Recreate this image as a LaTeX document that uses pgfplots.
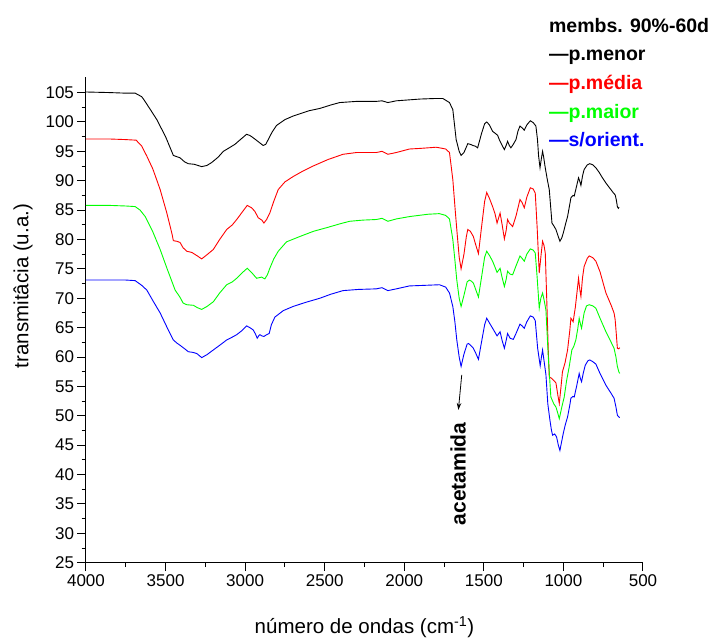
\documentclass[border=0pt]{standalone}
\usepackage{fontspec}
\setmainfont{Liberation Sans}
\usepackage{pgfplots}
\pgfplotsset{compat=1.18}
\usetikzlibrary{arrows.meta}
\definecolor{cgreen}{RGB}{0,255,0}
\definecolor{cred}{RGB}{255,0,0}
\definecolor{cblue}{RGB}{0,0,255}
\begin{document}
\begin{tikzpicture}
\path[use as bounding box] (0,0) rectangle (711pt,643pt);
\begin{axis}[
  at={(86pt,80.3pt)}, anchor=south west,
  scale only axis, width=557pt, height=485.4pt,
  xmin=500, xmax=4000, x dir=reverse,
  ymin=25, ymax=107.6,
  axis lines=left, axis line style={-, line width=1pt},
  xtick={500,1000,...,4000}, ytick={25,30,...,105},
  minor x tick num=1, minor y tick num=1,
  tick align=outside, major tick length=8.5pt, minor tick length=4.3pt,
  tick style={black, line width=1pt},
  ticklabel style={font=\fontsize{17}{17}\selectfont},
  /pgf/number format/assume math mode=true,
  /pgf/number format/set thousands separator={},
  xlabel={número de ondas (cm\textsuperscript{-1})},
  ylabel={transmitâcia (u.a.)},
  xlabel style={font=\fontsize{20.5}{20.5}\selectfont, at={(axis description cs:0.5,-0.133)}, anchor=center},
  ylabel style={font=\fontsize{20.5}{20.5}\selectfont, at={(axis description cs:-0.113,0.57)}, anchor=center},
  clip=false,
  every axis plot/.append style={line width=0.9pt},
]
% black: p.menor
\addplot[black] coordinates {
(4000,105.1)(3850,105.0)(3750,104.9)(3691,104.9)(3650,104.3)(3639,103.9)(3600,102.3)(3555,100.4)(3500,97.5)(3451,94.3)(3409,93.9)(3380,93.2)(3357,92.9)(3320,92.8)(3273,92.4)(3240,92.6)(3210,93.1)(3170,94.0)(3137,95.0)(3100,95.6)(3064,96.2)(3030,97.0)(2991,97.9)(2970,97.7)(2949,97.3)(2920,96.7)(2887,96.0)(2870,96.2)(2855,97.0)(2830,98.3)(2803,99.4)(2750,100.4)(2699,101.0)(2600,101.9)(2531,102.3)(2460,102.9)(2406,103.3)(2300,103.5)(2176,103.5)(2140,103.6)(2103,103.3)(2050,103.6)(2000,103.7)(1900,103.9)(1800,104.0)(1758,104.0)(1716,103.3)(1695,102.1)(1674,97.0)(1655,95.0)(1643,94.3)(1625,94.8)(1601,96.3)(1585,96.2)(1570,96.0)(1555,95.9)(1539,95.6)(1515,98.0)(1495,99.7)(1482,100.0)(1465,99.5)(1445,98.4)(1425,98.0)(1413,97.7)(1403,97.0)(1385,96.0)(1371,95.3)(1360,96.0)(1351,96.7)(1340,96.0)(1330,95.6)(1315,96.2)(1298,97.0)(1285,98.5)(1273,99.3)(1260,99.0)(1246,98.6)(1230,99.5)(1208,100.2)(1190,99.9)(1173,99.3)(1163,97.0)(1156,94.2)(1147,92.2)(1140,93.5)(1131,95.0)(1124,94.0)(1116,92.5)(1100,90.0)(1089,88.5)(1080,85.5)(1072,82.8)(1060,82.3)(1047,81.7)(1035,80.7)(1022,79.7)(1010,80.3)(1001,81.1)(985,82.8)(974,83.9)(960,86.0)(953,87.1)(940,87.5)(932,87.4)(918,89.0)(905,90.5)(897,89.9)(890,89.2)(880,90.8)(870,91.9)(850,92.7)(834,92.9)(815,92.7)(796,92.2)(775,91.4)(755,90.5)(730,89.5)(702,88.5)(685,87.9)(675,87.6)(668,86.8)(661,85.6)(655,85.3)(650,85.5)
};
% red: p.media
\addplot[cred] coordinates {
(4000,97.1)(3850,97.1)(3750,97.0)(3685,96.9)(3650,95.9)(3618,94.2)(3580,92.0)(3534,88.5)(3492,84.5)(3460,81.0)(3451,79.8)(3430,79.7)(3409,79.5)(3390,78.6)(3367,78.0)(3335,77.8)(3300,77.2)(3273,76.7)(3240,77.4)(3200,78.3)(3160,80.0)(3116,81.7)(3080,82.5)(3053,83.4)(3020,84.6)(2987,85.8)(2960,85.4)(2939,84.8)(2918,83.7)(2895,83.3)(2882,82.8)(2865,83.4)(2845,84.5)(2820,86.5)(2792,88.5)(2750,89.8)(2699,90.7)(2640,91.6)(2573,92.5)(2480,93.6)(2385,94.5)(2300,94.8)(2176,94.8)(2140,95.0)(2103,94.5)(2050,94.8)(1967,95.4)(1900,95.5)(1800,95.7)(1779,95.6)(1740,95.4)(1716,94.8)(1695,90.2)(1680,85.0)(1670,81.7)(1655,77.0)(1643,75.0)(1625,77.5)(1610,80.5)(1601,81.7)(1585,81.4)(1566,80.5)(1550,79.0)(1534,77.6)(1515,82.0)(1495,86.5)(1482,88.0)(1465,87.0)(1445,85.6)(1430,84.4)(1417,82.8)(1398,84.5)(1385,82.5)(1371,80.1)(1360,81.5)(1351,83.4)(1340,82.8)(1319,82.2)(1298,84.0)(1273,86.8)(1260,86.3)(1246,85.4)(1230,87.2)(1208,88.8)(1190,88.6)(1177,87.9)(1165,82.0)(1152,74.3)(1140,77.5)(1131,79.7)(1122,79.0)(1114,77.7)(1105,70.0)(1095,61.0)(1089,56.6)(1075,56.4)(1064,56.1)(1047,55.6)(1035,53.5)(1026,52.1)(1015,55.0)(1006,57.5)(990,59.0)(974,61.2)(960,64.5)(953,66.6)(939,66.0)(925,68.5)(905,73.4)(897,71.5)(890,70.3)(880,73.5)(870,75.4)(850,76.8)(838,77.2)(815,76.9)(796,76.3)(770,74.5)(733,70.9)(700,68.8)(682,67.5)(675,66.4)(668,64.0)(661,61.5)(653,61.4)(646,61.6)
};
% green: p.maior
\addplot[cgreen] coordinates {
(4000,85.8)(3850,85.8)(3750,85.7)(3691,85.6)(3660,85.0)(3628,83.9)(3580,81.3)(3534,78.3)(3490,75.0)(3440,71.4)(3410,70.2)(3390,69.2)(3367,68.9)(3325,68.8)(3300,68.4)(3273,68.1)(3240,68.6)(3200,69.4)(3160,70.9)(3116,72.3)(3080,72.8)(3053,73.4)(3020,74.3)(2987,75.1)(2960,74.4)(2928,73.4)(2912,73.5)(2897,73.6)(2876,73.3)(2860,74.0)(2845,75.1)(2820,76.7)(2792,78.0)(2740,79.6)(2657,80.5)(2570,81.4)(2489,82.0)(2400,82.7)(2343,83.1)(2260,83.3)(2176,83.4)(2140,83.6)(2103,83.1)(2050,83.5)(1967,83.9)(1850,84.3)(1779,84.4)(1740,84.1)(1716,83.5)(1695,80.0)(1682,76.5)(1670,73.1)(1655,70.0)(1643,68.6)(1625,70.5)(1605,72.8)(1591,73.1)(1578,72.9)(1566,72.6)(1550,71.4)(1534,70.2)(1515,73.5)(1495,77.0)(1482,78.0)(1465,77.3)(1445,76.3)(1430,75.3)(1417,74.4)(1398,75.1)(1385,73.5)(1371,72.0)(1360,73.2)(1351,74.6)(1335,74.1)(1319,74.0)(1298,75.5)(1273,77.2)(1260,76.8)(1246,76.3)(1230,77.5)(1208,78.4)(1190,78.2)(1177,77.7)(1165,73.5)(1152,68.3)(1142,70.0)(1131,70.9)(1120,69.5)(1110,68.0)(1095,60.0)(1079,53.2)(1060,52.0)(1047,51.5)(1035,50.4)(1026,49.5)(1010,51.5)(995,53.2)(980,56.0)(964,58.3)(947,61.2)(935,61.8)(922,62.9)(910,64.8)(901,66.6)(893,65.6)(886,64.9)(870,67.5)(855,68.7)(838,68.9)(815,68.7)(796,68.3)(770,66.6)(733,64.3)(700,62.5)(682,61.5)(670,60.0)(661,58.4)(652,57.5)(646,57.2)
};
% blue: s/orient.
\addplot[cblue] coordinates {
(4000,73.1)(3850,73.1)(3750,73.1)(3691,73.0)(3650,72.2)(3618,71.4)(3580,69.6)(3534,67.5)(3490,65.0)(3451,62.9)(3430,62.4)(3409,62.0)(3380,61.4)(3357,60.9)(3330,60.8)(3304,60.6)(3273,59.9)(3240,60.4)(3200,61.2)(3160,62.0)(3116,62.9)(3080,63.4)(3053,63.8)(3020,64.5)(2991,65.3)(2970,65.0)(2949,64.6)(2935,63.9)(2924,63.2)(2915,63.6)(2907,63.8)(2895,63.6)(2882,63.5)(2865,63.8)(2849,64.0)(2835,65.5)(2813,66.8)(2760,67.9)(2699,68.6)(2620,69.3)(2531,70.0)(2460,70.7)(2385,71.3)(2290,71.5)(2176,71.6)(2140,71.8)(2103,71.3)(2050,71.6)(1967,72.1)(1870,72.2)(1779,72.3)(1740,71.9)(1716,70.9)(1695,68.6)(1682,66.0)(1670,62.9)(1655,60.0)(1643,58.4)(1625,60.5)(1605,62.2)(1596,62.3)(1580,61.9)(1566,61.5)(1550,60.6)(1534,59.6)(1515,62.5)(1495,65.5)(1482,66.6)(1465,65.8)(1445,64.9)(1430,64.2)(1417,63.6)(1398,64.3)(1385,62.8)(1371,61.5)(1360,62.8)(1351,64.0)(1335,63.2)(1315,63.0)(1298,64.0)(1273,65.6)(1260,65.3)(1246,64.9)(1230,66.0)(1208,67.0)(1190,66.8)(1177,66.2)(1162,61.5)(1146,58.5)(1138,60.0)(1131,61.2)(1120,59.0)(1110,57.0)(1098,52.0)(1085,49.3)(1075,47.5)(1068,46.7)(1055,46.9)(1043,46.4)(1032,45.0)(1022,44.1)(1012,45.5)(1001,47.0)(988,48.5)(974,49.8)(960,51.8)(953,53.0)(940,53.3)(932,53.2)(915,55.3)(901,57.2)(893,56.3)(886,55.8)(875,57.3)(863,58.6)(845,59.4)(834,59.5)(815,59.2)(796,58.8)(770,57.2)(733,55.2)(700,53.8)(682,53.0)(670,51.5)(661,50.1)(652,49.8)(646,49.7)
};
% annotation
\draw[-{Stealth[length=7pt,width=4.5pt]}, line width=0.8pt] (axis cs:1639,56.95) -- (axis cs:1660,51.0);
\node[rotate=90, font=\bfseries\fontsize{21}{21}\selectfont] at (axis cs:1661,40.1) {acetamida};
% legend text
\node[anchor=base west, inner sep=0pt, font=\bfseries\fontsize{19.5}{19.5}\selectfont] at (axis cs:1091,115.28) {membs. 90\%-60d};
\node[anchor=base west, inner sep=0pt, font=\bfseries\fontsize{19.5}{19.5}\selectfont, text=black] at (axis cs:1091,110.40) {---p.menor};
\node[anchor=base west, inner sep=0pt, font=\bfseries\fontsize{19.5}{19.5}\selectfont, text=cred] at (axis cs:1091,105.46) {---p.média};
\node[anchor=base west, inner sep=0pt, font=\bfseries\fontsize{19.5}{19.5}\selectfont, text=cgreen] at (axis cs:1091,100.64) {---p.maior};
\node[anchor=base west, inner sep=0pt, font=\bfseries\fontsize{19.5}{19.5}\selectfont, text=cblue] at (axis cs:1091,95.81) {---s/orient.};
\end{axis}
\end{tikzpicture}
\end{document}
